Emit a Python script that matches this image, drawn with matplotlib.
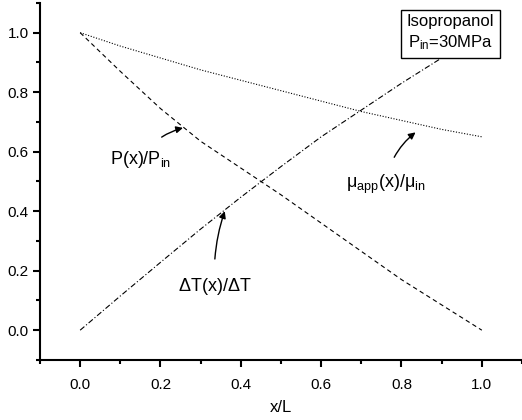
import matplotlib
matplotlib.use("Agg")
import matplotlib.pyplot as plt
from matplotlib.ticker import MultipleLocator

plt.rcParams["font.family"] = ["Liberation Sans", "DejaVu Sans"]
plt.rcParams["mathtext.fontset"] = "custom"
plt.rcParams["mathtext.rm"] = "Liberation Sans"
plt.rcParams["mathtext.it"] = "Liberation Sans"
plt.rcParams["mathtext.default"] = "regular"

# ==================================
# DATA
# ==================================
x_pos = [0.0, 0.1, 0.2, 0.3, 0.4, 0.5, 0.6, 0.7, 0.8, 0.9, 1.0]
p_ratio = [1.0, 0.87, 0.745, 0.635, 0.545, 0.455, 0.36, 0.265, 0.17, 0.085, 0.0]
dt_ratio = [0.0, 0.115, 0.228, 0.34, 0.447, 0.55, 0.65, 0.74, 0.83, 0.915, 1.0]
mu_ratio = [1.0, 0.955, 0.915, 0.875, 0.84, 0.805, 0.77, 0.735, 0.705, 0.675, 0.65]

x_ticks = [0.0, 0.2, 0.4, 0.6, 0.8, 1.0]
y_ticks = [0.0, 0.2, 0.4, 0.6, 0.8, 1.0]

# ==================================
# FIGURE
# ==================================
fig = plt.figure(figsize=(5.22, 4.2), dpi=100)
ax = fig.add_axes([0.0766, 0.143, 0.9234, 0.85])

ax.plot(x_pos, p_ratio, color="black", lw=0.8, ls=(0, (4, 3)))
ax.plot(x_pos, dt_ratio, color="black", lw=0.8, ls=(0, (5, 2, 1, 2)))
ax.plot(x_pos, mu_ratio, color="black", lw=0.8, ls=(0, (1, 1.5)))

ax.set_xlim(-0.1, 1.1)
ax.set_ylim(-0.1, 1.1)
ax.set_xticks(x_ticks)
ax.set_yticks(y_ticks)
ax.set_xticklabels(["%.1f" % v for v in x_ticks])
ax.set_yticklabels(["%.1f" % v for v in y_ticks])
ax.xaxis.set_minor_locator(MultipleLocator(0.1))
ax.yaxis.set_minor_locator(MultipleLocator(0.1))

ax.spines["top"].set_visible(False)
ax.spines["right"].set_visible(False)
ax.spines["left"].set_linewidth(1.5)
ax.spines["bottom"].set_linewidth(1.5)
ax.tick_params(which="major", direction="out", length=5, width=1.5,
               labelsize=11)
ax.tick_params(axis="x", which="major", pad=8)
ax.tick_params(axis="y", which="major", pad=3)
ax.tick_params(which="minor", direction="out", length=3, width=1.5)

ax.set_xlabel("x/L", fontsize=12, labelpad=6)

# ==================================
# ANNOTATIONS
# ==================================
arrow = dict(arrowstyle="-|>", color="black", lw=1, mutation_scale=10,
             connectionstyle="arc3,rad=-0.2")

ax.annotate(r"P(x)/P$_{in}$", xy=(0.256, 0.68), xytext=(0.15, 0.575),
            fontsize=13, ha="center", va="center",
            arrowprops=dict(arrow, shrinkA=10, shrinkB=0))
ax.annotate(r"$\mu_{app}$(x)/$\mu_{in}$", xy=(0.835, 0.665), xytext=(0.76, 0.49),
            fontsize=13, ha="center", va="center",
            arrowprops=dict(arrow, shrinkA=10, shrinkB=0))
ax.annotate(r"$\Delta$T(x)/$\Delta$T", xy=(0.36, 0.4), xytext=(0.335, 0.148),
            fontsize=13, ha="center", va="center",
            arrowprops=dict(arrow, connectionstyle="arc3,rad=-0.1",
                            shrinkA=10, shrinkB=0))

ax.text(0.922, 1.062, "Isopropanol\n" + r"P$_{in}$=30MPa", fontsize=12,
        ha="center", va="top", linespacing=1.3,
        bbox=dict(boxstyle="square,pad=0.35", fc="white", ec="black", lw=1))

fig.savefig("out.png", dpi=100)
